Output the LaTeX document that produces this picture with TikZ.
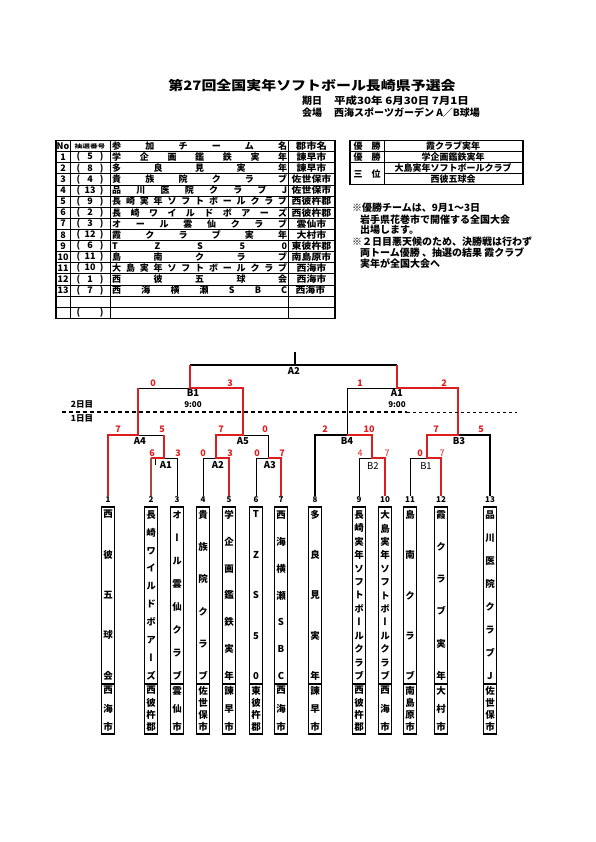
\documentclass[tikz,border=0pt]{standalone}
\usepackage{fontspec}
\setmainfont{Noto Sans CJK JP}
\newfontfamily\vfont{Noto Sans CJK JP}[RawFeature=+vert]
\usepackage{graphicx}
\usetikzlibrary{positioning}
\definecolor{brk}{RGB}{222,30,30}
\definecolor{brn}{RGB}{165,75,65}

% spread the letters of a name over a fixed width or height
\def\hsprd#1{\hsprdA#1\relax}
\def\hsprdA#1{#1\hsprdB}
\def\hsprdB#1{\ifx\relax#1\else\hfill#1\expandafter\hsprdB\fi}
\def\vsprd#1{\vsprdA#1\relax}
\def\vsprdA#1{#1\vsprdB}
\def\vsprdB#1{\ifx\relax#1\else\par\vfill#1\expandafter\vsprdB\fi}
\newcommand{\hname}[2]{\hbox to #1{\expandafter\hsprd\expandafter{#2}}}
\newcommand{\vname}[2]{\vbox to #1{\hsize=12pt\parindent=0pt\parskip=0pt\centering\leavevmode\expandafter\vsprd\expandafter{#2}\par}}
\newcommand{\wide}[2][1.2]{\scalebox{#1}[1]{#2}}

\begin{document}
\begin{tikzpicture}[x=1pt, y=-1pt,
    win/.style={brk, line width=2.3pt},
    lost/.style={black, line width=0.7pt},
    heavy/.style={black, line width=1.6pt},
    score/.style={brk, font=\fontsize{9}{9}\selectfont\bfseries, inner sep=0pt},
    rnd/.style={font=\fontsize{9.5}{10}\selectfont\bfseries, inner sep=0pt},
    tframe/.style={black, line width=1.2pt},
    tline/.style={black, line width=0.6pt},
    cell/.style={font=\fontsize{9}{9}\selectfont\bfseries, inner sep=0pt},
    note/.style={font=\fontsize{10}{10}\selectfont\bfseries, inner sep=0pt, anchor=west},
    num/.style={font=\fontsize{8}{8}\selectfont\bfseries, inner sep=1pt},
    namebox/.style={draw, line width=1.5pt, minimum width=13pt, minimum height=177pt, inner sep=0pt, anchor=north, font=\vfont\fontsize{9.5}{10}\selectfont\bfseries},
    citybox/.style={namebox, minimum height=50pt}]

    \fill[white] (0,0) rectangle (595,842);
    \useasboundingbox (0,0) rectangle (595,842);

    % Title
    \node[font=\fontsize{13}{13}\selectfont\bfseries] (title) at (312,86) {\wide[1.15]{第27回全国実年ソフトボール長崎県予選会}};
    \node[note] (dayl) at (302,101) {期日};
    \node[note] (dayv) at (334,101) {\wide[1.15]{平成30年 6月30日 7月1日}};
    \node[note] (placel) at (302,112.5) {会場};
    \node[note] (placev) at (334,112.5) {西海スポーツガーデン A／B球場};

    % Entry table
    \draw[tframe] (56,140.5) rectangle (335,318.1);
    \foreach \r in {1,...,15} {
        \draw[tline] (56,{140.5+\r*11.1}) -- (335,{140.5+\r*11.1});
    }
    \draw[tline] (70,140.5) -- (70,318.1);
    \draw[tline] (110,140.5) -- (110,318.1);
    \draw[tline] (288,140.5) -- (288,318.1);
    \node[cell] (hno) at (63,146) {No};
    \node[cell, font=\fontsize{5.5}{6}\selectfont\bfseries] (hlot) at (90,146) {\wide[1.4]{抽選番号}};
    \node[cell, anchor=west] (hnm) at (112,146) {\hname{175pt}{参加チーム名}};
    \node[cell] (hct) at (311.5,146) {\wide[1.15]{郡市名}};
    \foreach \n/\k/\nm/\ct in {
        1/5/学企画鑑鉄実年/諫早市,
        2/8/多良見実年/諫早市,
        3/4/貴族院クラブ/佐世保市,
        4/13/品川医院クラブJ/佐世保市,
        5/9/長崎実年ソフトボールクラブ/西彼杵郡,
        6/2/長崎ワイルドボアーズ/西彼杵郡,
        7/3/オール雲仙クラブ/雲仙市,
        8/12/霞クラブ実年/大村市,
        9/6/TZS50/東彼杵郡,
        10/11/島南クラブ/南島原市,
        11/10/大島実年ソフトボールクラブ/西海市,
        12/1/西彼五球会/西海市,
        13/7/西海横瀬SBC/西海市
    } {
        \node[cell] (no\n) at (63,{146+\n*11.1}) {\n};
        \node[cell] (lot\n) at (90,{146+\n*11.1}) {\hbox to 27pt{(\hfil\k\hfil)}};
        \node[cell, anchor=west] (nm\n) at (112,{146+\n*11.1}) {\hname{175pt}{\nm}};
        \node[cell] (ct\n) at (311.5,{146+\n*11.1}) {\wide[1.1]{\ct}};
    }
    \node[cell] (lot15) at (90,312.5) {\hbox to 27pt{(\hfil)}};

    % Result table
    \draw[tframe] (350,140.5) rectangle (523,184.9);
    \draw[tline] (384,140.5) -- (384,184.9);
    \draw[tline] (350,151.6) -- (523,151.6);
    \draw[tline] (350,162.7) -- (523,162.7);
    \draw[tline] (384,173.8) -- (523,173.8);
    \node[cell] (p1) at (367,146) {\hname{27pt}{優勝}};
    \node[cell] (p2) at (367,157.1) {\hname{27pt}{優勝}};
    \node[cell] (p3) at (367,173.8) {\hname{27pt}{三位}};
    \node[cell] (w1) at (453,146) {霞クラブ実年};
    \node[cell] (w2) at (453,157.1) {学企画鑑鉄実年};
    \node[cell] (w3) at (453,168.2) {大島実年ソフトボールクラブ};
    \node[cell] (w4) at (453,179.3) {西彼五球会};

    % Notes
    \node[note] (nt1) at (352,208) {※優勝チームは、9月1～3日};
    \node[note] (nt2) at (360,219.5) {岩手県花巻市で開催する全国大会};
    \node[note] (nt3) at (360,230) {出場します。};
    \node[note] (nt4) at (352,241.5) {※２日目悪天候のため、決勝戦は行わず};
    \node[note] (nt5) at (360,252.5) {両トーム優勝 、抽選の結果 霞クラブ};
    \node[note] (nt6) at (360,264) {実年が全国大会へ};

    % Teams
    \foreach \i/\x/\nm/\ct in {
        1/108/西彼五球会/西海市,
        2/151/長崎ワイルドボアーズ/西彼杵郡,
        3/177/オール雲仙クラブ/雲仙市,
        4/203/貴族院クラブ/佐世保市,
        5/229/学企画鑑鉄実年/諫早市,
        6/256/TZS50/東彼杵郡,
        7/281/西海横瀬SBC/西海市,
        8/315/多良見実年/諫早市,
        9/359/長崎実年ソフトボールクラブ/西彼杵郡,
        10/385/大島実年ソフトボールクラブ/西海市,
        11/410/島南クラブ/南島原市,
        12/441/霞クラブ実年/大村市,
        13/490/品川医院クラブJ/佐世保市
    } {
        \node[num] (n\i) at (\x,500) {\i};
        \node[namebox] (t\i) at (\x,506) {\vname{169pt}{\nm}};
        \node[citybox] (c\i) at (\x,683) {\vname{44pt}{\ct}};
    }

    % Bracket points
    \coordinate (fin) at (295,352);
    \coordinate (fa) at (295,365);
    \coordinate (sB1) at (190,388);
    \coordinate (sA1) at (397,388);
    \coordinate (qA4) at (138,435);
    \coordinate (qA5) at (243,435);
    \coordinate (qB4) at (347,435);
    \coordinate (qB3) at (458,435);
    \coordinate (rA1) at (164,458);
    \coordinate (rA2) at (216,458);
    \coordinate (rA3) at (268,458);
    \coordinate (rB2) at (372,458);
    \coordinate (rB1) at (427,458);
    \coordinate (tick) at (155,465);

    % lost lines
    \draw[black, line width=1.3pt] (fin) -- (fa);
    \draw[black, line width=1.3pt] (fa -| sB1) -- (fa -| sA1);
    \draw[lost] (sB1) -- (sB1 -| qA4);
    \draw[lost] (sA1) -| (qB4);
    \draw[lost] (qA4) -- (qA4 -| rA1);
    \draw[lost] (qA5) -| (rA3);
    \draw[lost] (rA1) -| (n3.north);
    \draw[lost] (tick) -- (tick |- rA1);
    \draw[lost] (rA2) -| (n4.north);
    \draw[lost] (rA3) -| (n6.north);
    \draw[lost] (rB2) -| (n9.north);
    \draw[lost] (rB1) -| (n11.north);
    \draw[heavy] (qB4) -| (n8.north);
    \draw[heavy] (qB3) -| (n13.north);

    % winning lines
    \draw[win] (n5.north) |- (rA2) |- (qA5) |- (sB1) -- (sB1 |- fa);
    \draw[win] (n1.north) |- (qA4) -- (qA4 |- sB1);
    \draw[win] (rA1 |- qA4) -- (rA1) -- (rA1 -| n2);
    \draw[brn, line width=2pt] (rA1 -| n2) -- (n2.north);
    \draw[win] (n7.north) |- (rA3);
    \draw[win] (n12.north) |- (rB1) |- (qB3) |- (sA1) -- (sA1 |- fa);
    \draw[win] (n10.north) |- (rB2) |- (qB4);

    % Day line
    \coordinate (dl) at (62,412);
    \coordinate (dm) at (407,412);
    \coordinate (dr) at (517,412);
    \draw[black, line width=1.3pt, dash pattern=on 4pt off 3pt] (dl) -- (dm);
    \draw[black, line width=0.7pt, dash pattern=on 3pt off 3pt] (dm) -- (dr);
    \node[rnd, font=\fontsize{8.5}{9}\selectfont\bfseries] (day2) at (82,404.5) {2日目};
    \node[rnd, font=\fontsize{8.5}{9}\selectfont\bfseries] (day1) at (82,418.5) {1日目};

    % Round labels
    \foreach \nm/\x/\y/\t in {lfA2/294/371/A2, lsB1/193/393/B1, lsA1/397/393/A1,
        lqA4/140/441/A4, lqA5/243/441/A5, lqB4/347/441/B4, lqB3/459/441/B3,
        lrA1/166/465/A1, lrA2/218/465/A2, lrA3/270/465/A3} {
        \node[rnd] (\nm) at (\x,\y) {\t};
    }
    \foreach \nm/\x/\y/\t in {lrB2/373/466/B2, lrB1/426/466/B1} {
        \node[rnd, font=\fontsize{9.5}{10}\selectfont] (\nm) at (\x,\y) {\t};
    }
    \node[rnd, font=\fontsize{8}{8}\selectfont\bfseries, below=5pt of lsB1] (tsB1) {9:00};
    \node[rnd, font=\fontsize{8}{8}\selectfont\bfseries, below=5pt of lsA1] (tsA1) {9:00};

    % Scores
    \foreach \nm/\x/\y/\v in {
        s1/153/383/0, s2/230/383/3, s3/360/383/1, s4/444/383/2,
        s5/118/429/7, s6/162/429/5, s7/221/429/7, s8/265/429/0,
        s9/325/429/2, s10/369/429/10, s11/436/429/7, s12/481/429/5,
        s13/152/453/6, s14/178/453/3, s15/203/453/0, s16/230/453/3,
        s17/257/453/0, s18/282/453/7, s21/420/453/0
    } {
        \node[score] (\nm) at (\x,\y) {\v};
    }
    \foreach \nm/\x/\y/\v in {s19/360/453/4, s20/387/453/7, s22/442/453/7} {
        \node[score, font=\fontsize{9}{9}\selectfont] (\nm) at (\x,\y) {\v};
    }
\end{tikzpicture}
\end{document}
